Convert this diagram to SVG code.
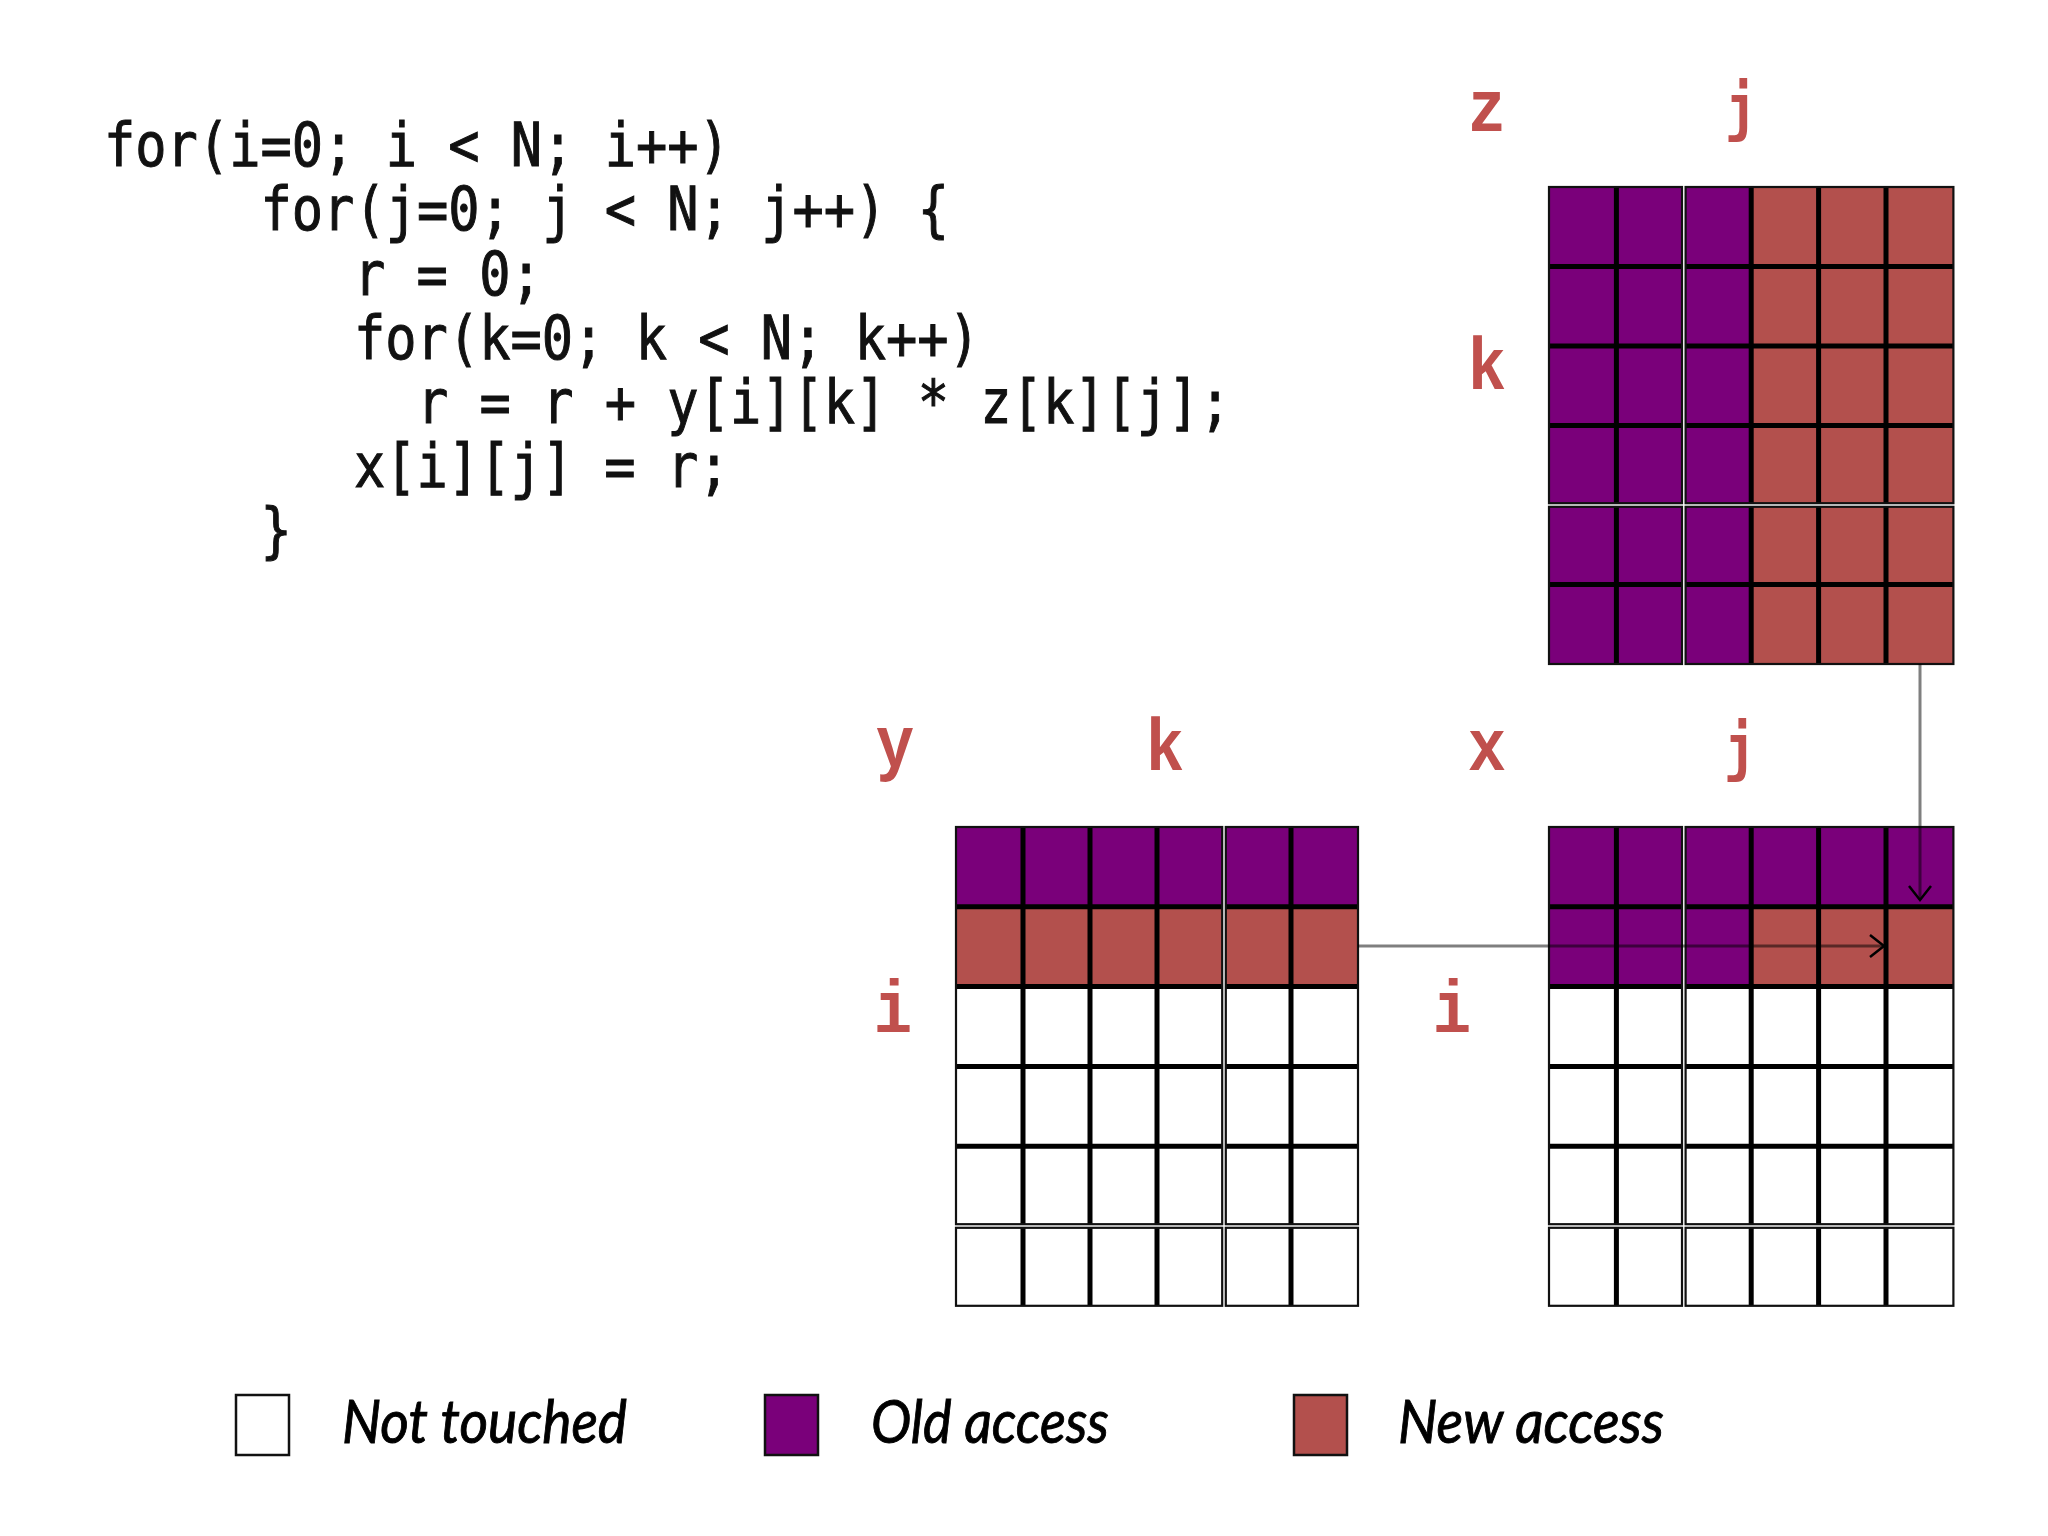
<svg xmlns="http://www.w3.org/2000/svg" width="2048" height="1536" viewBox="0 0 2048 1536">
<style>
.code{font-family:"DejaVu Sans Mono",monospace;font-size:52px;fill:#111;stroke:#111;stroke-width:0.9}
.lbl{font-family:"Liberation Mono","Courier New",monospace;font-weight:bold;font-size:64px;fill:#C0504D;text-anchor:middle}
.lblj{font-family:"DejaVu Sans Mono",monospace;font-weight:bold;font-size:54px;fill:#C0504D;text-anchor:middle}
.leg{font-family:Lato,"Open Sans",sans-serif;font-style:italic;font-size:52px;fill:#000;stroke:#000;stroke-width:0.8}
.old{fill:#7A007A}
.new{fill:#B3504D}
.wht{fill:#fff}
.blk{fill:none;stroke:#111;stroke-width:2.2}
.ln{fill:none;stroke:#000;stroke-width:5}
.conn{fill:none;stroke:#000;stroke-opacity:0.5;stroke-width:3}
</style>
<defs>
<marker id="arr" markerUnits="userSpaceOnUse" markerWidth="40" markerHeight="40" refX="0" refY="0" viewBox="-20 -20 40 40" orient="auto">
<path d="M-14,-11 L0,0 L-14,11" fill="none" stroke="#000" stroke-width="2.5"/>
</marker>
</defs>
<rect width="2048" height="1536" fill="#fff"/>

<g id="code">
<text class="code" transform="matrix(1 0 0 1.15 104 166)">for(i=0; i &lt; N; i++)</text>
<text class="code" transform="matrix(1 0 0 1.15 260.5 230)">for(j=0; j &lt; N; j++) {</text>
<text class="code" transform="matrix(1 0 0 1.15 354 295)">r = 0;</text>
<text class="code" transform="matrix(1 0 0 1.15 354 359)">for(k=0; k &lt; N; k++)</text>
<text class="code" transform="matrix(1 0 0 1.15 417 423)">r = r + y[i][k] * z[k][j];</text>
<text class="code" transform="matrix(1 0 0 1.15 354 487)">x[i][j] = r;</text>
<text class="code" transform="matrix(1 0 0 1.15 260.5 551)">}</text>
</g>

<g id="grid-z">
<rect class="old" x="1549" y="187" width="133" height="316.2"/>
<rect class="old" x="1685.6" y="187" width="65.6" height="316.2"/>
<rect class="new" x="1751.2" y="187" width="202.2" height="316.2"/>
<rect class="old" x="1549" y="506.8" width="133" height="157.2"/>
<rect class="old" x="1685.6" y="506.8" width="65.6" height="157.2"/>
<rect class="new" x="1751.2" y="506.8" width="202.2" height="157.2"/>
<path class="ln" d="M1616.4 187V503.2M1616.4 506.8V664M1751.2 187V503.2M1751.2 506.8V664M1818.6 187V503.2M1818.6 506.8V664M1886 187V503.2M1886 506.8V664M1549 266.5H1682M1685.6 266.5H1953.4M1549 346H1682M1685.6 346H1953.4M1549 425.5H1682M1685.6 425.5H1953.4M1549 584.5H1682M1685.6 584.5H1953.4"/>
<rect class="blk" x="1549" y="187" width="133" height="316.2"/>
<rect class="blk" x="1685.6" y="187" width="267.8" height="316.2"/>
<rect class="blk" x="1549" y="506.8" width="133" height="157.2"/>
<rect class="blk" x="1685.6" y="506.8" width="267.8" height="157.2"/>
<text class="lbl" transform="matrix(1 0 0 1.15 1487 131)">z</text>
<text class="lblj" transform="matrix(1 0 0 1.15 1741 129)">j</text>
<text class="lbl" transform="matrix(1 0 0 1.15 1487 389)">k</text>
</g>

<g id="grid-y">
<rect class="old" x="956" y="827" width="266.2" height="79.8"/>
<rect class="old" x="1225.8" y="827" width="132.2" height="79.8"/>
<rect class="new" x="956" y="906.8" width="266.2" height="79.8"/>
<rect class="new" x="1225.8" y="906.8" width="132.2" height="79.8"/>
<path class="ln" d="M1023 827V1224.2M1023 1227.8V1305.8M1090 827V1224.2M1090 1227.8V1305.8M1157 827V1224.2M1157 1227.8V1305.8M1291 827V1224.2M1291 1227.8V1305.8M956 906.8H1222.2M1225.8 906.8H1358M956 986.6H1222.2M1225.8 986.6H1358M956 1066.4H1222.2M1225.8 1066.4H1358M956 1146.2H1222.2M1225.8 1146.2H1358"/>
<rect class="blk" x="956" y="827" width="266.2" height="397.2"/>
<rect class="blk" x="1225.8" y="827" width="132.2" height="397.2"/>
<rect class="blk" x="956" y="1227.8" width="266.2" height="78"/>
<rect class="blk" x="1225.8" y="1227.8" width="132.2" height="78"/>
<text class="lbl" transform="matrix(1 0 0 1.15 895 767)">y</text>
<text class="lbl" transform="matrix(1 0 0 1.15 1165 770)">k</text>
<text class="lbl" transform="matrix(1 0 0 1.15 893 1032)">i</text>
</g>

<g id="grid-x">
<rect class="old" x="1549" y="827" width="133" height="159.6"/>
<rect class="old" x="1685.6" y="827" width="267.8" height="79.8"/>
<rect class="old" x="1685.6" y="906.8" width="65.6" height="79.8"/>
<rect class="new" x="1751.2" y="906.8" width="202.2" height="79.8"/>
<path class="ln" d="M1616.4 827V1224.2M1616.4 1227.8V1305.8M1751.2 827V1224.2M1751.2 1227.8V1305.8M1818.6 827V1224.2M1818.6 1227.8V1305.8M1886 827V1224.2M1886 1227.8V1305.8M1549 906.8H1682M1685.6 906.8H1953.4M1549 986.6H1682M1685.6 986.6H1953.4M1549 1066.4H1682M1685.6 1066.4H1953.4M1549 1146.2H1682M1685.6 1146.2H1953.4"/>
<rect class="blk" x="1549" y="827" width="133" height="397.2"/>
<rect class="blk" x="1685.6" y="827" width="267.8" height="397.2"/>
<rect class="blk" x="1549" y="1227.8" width="133" height="78"/>
<rect class="blk" x="1685.6" y="1227.8" width="267.8" height="78"/>
<text class="lbl" transform="matrix(1 0 0 1.15 1487 770)">x</text>
<text class="lblj" transform="matrix(1 0 0 1.15 1740 769)">j</text>
<text class="lbl" transform="matrix(1 0 0 1.15 1452 1032)">i</text>
</g>

<g id="connectors">
<path class="conn" d="M1920 664V900" marker-end="url(#arr)"/>
<path class="conn" d="M1358 946H1884" marker-end="url(#arr)"/>
</g>

<g id="legend">
<rect class="wht" x="236" y="1395" width="53" height="60" stroke="#111" stroke-width="2.5"/>
<text class="leg" transform="matrix(1 0 0 1.15 342 1443)" textLength="285" lengthAdjust="spacingAndGlyphs">Not touched</text>
<rect class="old" x="765" y="1395" width="53" height="60" stroke="#111" stroke-width="2.5"/>
<text class="leg" transform="matrix(1 0 0 1.15 871 1443)" textLength="238" lengthAdjust="spacingAndGlyphs">Old access</text>
<rect class="new" x="1294" y="1395" width="53" height="60" stroke="#111" stroke-width="2.5"/>
<text class="leg" transform="matrix(1 0 0 1.15 1398 1443)" textLength="266" lengthAdjust="spacingAndGlyphs">New access</text>
</g>
</svg>
